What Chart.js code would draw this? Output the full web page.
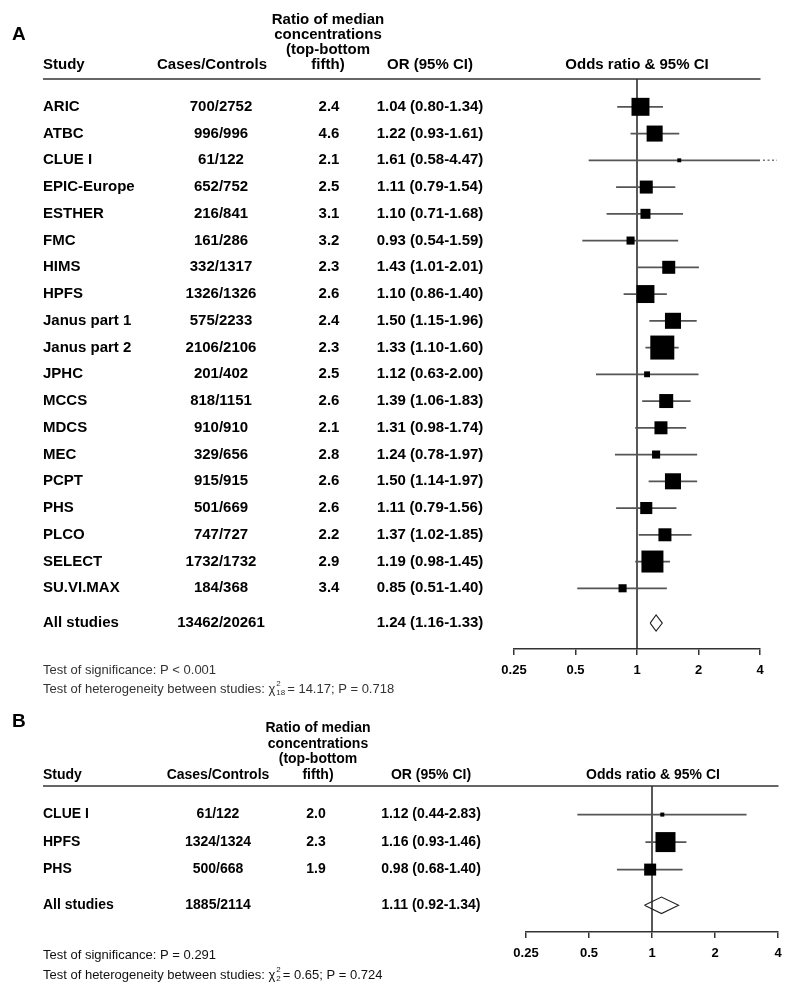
<!DOCTYPE html>
<html>
<head>
<meta charset="utf-8">
<script src="https://cdn.jsdelivr.net/npm/chart.js@4.4.0/dist/chart.umd.min.js"></script>
<style>
  body { margin: 0; background: #fff; }
  #wrap { position: relative; width: 800px; height: 993px; }
  canvas { position: absolute; left: 0; }
</style>
</head>
<body>
<div id="wrap">
  <canvas id="panelA" width="800" height="700" style="top:0"></canvas>
  <canvas id="panelB" width="800" height="293" style="top:700px"></canvas>
</div>
<script>
// ---- panel A data ----
const studiesA = ['ARIC', 'ATBC', 'CLUE I', 'EPIC-Europe', 'ESTHER', 'FMC', 'HIMS', 'HPFS',
  'Janus part 1', 'Janus part 2', 'JPHC', 'MCCS', 'MDCS', 'MEC', 'PCPT', 'PHS', 'PLCO', 'SELECT', 'SU.VI.MAX'];
const casesA = ['700/2752', '996/996', '61/122', '652/752', '216/841', '161/286', '332/1317', '1326/1326',
  '575/2233', '2106/2106', '201/402', '818/1151', '910/910', '329/656', '915/915', '501/669', '747/727', '1732/1732', '184/368'];
const ratioA = [2.4, 4.6, 2.1, 2.5, 3.1, 3.2, 2.3, 2.6, 2.4, 2.3, 2.5, 2.6, 2.1, 2.8, 2.6, 2.6, 2.2, 2.9, 3.4];
const orA = [1.04, 1.22, 1.61, 1.11, 1.10, 0.93, 1.43, 1.10, 1.50, 1.33, 1.12, 1.39, 1.31, 1.24, 1.50, 1.11, 1.37, 1.19, 0.85];
const loA = [0.80, 0.93, 0.58, 0.79, 0.71, 0.54, 1.01, 0.86, 1.15, 1.10, 0.63, 1.06, 0.98, 0.78, 1.14, 0.79, 1.02, 0.98, 0.51];
const hiA = [1.34, 1.61, 4.47, 1.54, 1.68, 1.59, 2.01, 1.40, 1.96, 1.60, 2.00, 1.83, 1.74, 1.97, 1.97, 1.56, 1.85, 1.45, 1.40];
// relative study weights (%)
const weightA = [8.4, 6.7, 0.4, 4.4, 2.6, 1.7, 4.4, 8.4, 6.7, 15.0, 0.9, 5.1, 4.4, 1.7, 6.7, 3.8, 4.4, 12.6, 1.7];
const allCasesA = '13462/20261';
const allOrA = [1.24, 1.16, 1.33];

// ---- panel B data ----
const studiesB = ['CLUE I', 'HPFS', 'PHS'];
const casesB = ['61/122', '1324/1324', '500/668'];
const ratioB = [2.0, 2.3, 1.9];
const orB = [1.12, 1.16, 0.98];
const loB = [0.44, 0.93, 0.68];
const hiB = [2.83, 1.46, 1.40];
const weightB = [2.9, 71.4, 25.7];
const allCasesB = '1885/2114';
const allOrB = [1.11, 0.92, 1.34];

const xTicks = [0.25, 0.5, 1, 2, 4];

const fmtOr = (o, l, h) => `${o.toFixed(2)} (${l.toFixed(2)}-${h.toFixed(2)})`;

function drawChi(ctx, x, y, before, sup, sub, after) {
  ctx.textAlign = 'left';
  ctx.fillText(before + '\u03C7', x, y);
  let cx = x + ctx.measureText(before + '\u03C7').width + 1;
  const old = ctx.font;
  ctx.font = '8px "Liberation Sans", Arial, sans-serif';
  ctx.fillText(sup, cx, y - 5);
  ctx.fillText(sub, cx, y + 4);
  const w = Math.max(ctx.measureText(sup).width, ctx.measureText(sub).width);
  ctx.font = old;
  ctx.fillText(after, cx + w + 2, y);
}

function makePanel(canvasId, p) {
  const n = p.studies.length;
  const yMin = -1.04, yMax = n + 1.27, ySum = n + 0.3;

  const datasets = [];
  // boxes, size from weight
  const maxW = Math.max(...p.weight);
  const radii = p.weight.map(w => p.maxBox * Math.sqrt(w / maxW) / Math.SQRT2);
  datasets.push({
    data: p.or.map((v, i) => ({ x: v, y: i })),
    pointStyle: 'rect',
    pointRadius: radii,
    pointHoverRadius: radii,
    backgroundColor: '#000', borderColor: '#000', borderWidth: 0,
    order: 0
  });
  // confidence intervals
  p.lo.forEach((l, i) => {
    datasets.push({
      data: [{ x: l, y: i }, { x: Math.min(p.hi[i], 4), y: i }],
      showLine: true, pointRadius: 0, borderColor: '#555', borderWidth: 1.7,
      order: 2
    });
  });
  // reference line at OR = 1
  datasets.push({
    data: [{ x: 1, y: yMin }, { x: 1, y: yMax }],
    showLine: true, pointRadius: 0, borderColor: '#222', borderWidth: 1.5, order: 3
  });
  // summary diamond
  const [so, sl, sh] = p.all;
  datasets.push({
    data: [{ x: sl, y: ySum }, { x: so, y: ySum - 0.3 }, { x: sh, y: ySum }, { x: so, y: ySum + 0.3 }, { x: sl, y: ySum }],
    showLine: true, pointRadius: 0, borderColor: '#222', borderWidth: 1.1, backgroundColor: '#fff', fill: true,
    order: 1
  });

  const tablePlugin = {
    id: 'table' + canvasId,
    afterDatasetsDraw(chart) {
      const ctx = chart.ctx;
      const area = chart.chartArea;
      const ys = chart.scales.y;
      ctx.save();
      ctx.fillStyle = '#000';
      ctx.textBaseline = 'middle';

      // panel letter
      ctx.font = 'bold 19px "Liberation Sans", Arial, sans-serif';
      ctx.textAlign = 'left';
      ctx.fillText(p.letter, 12, p.letterY);

      // header
      ctx.font = p.headFont;
      const hy = area.top - p.headGap;
      ctx.fillText('Study', p.colStudy, hy);
      ctx.textAlign = 'center';
      ctx.fillText('Cases/Controls', p.colCasesHead, hy);
      ['Ratio of median', 'concentrations', '(top-bottom', 'fifth)'].forEach((t, k) => {
        ctx.fillText(t, p.colRatioHead, hy - (3 - k) * p.headStep);
      });
      ctx.fillText('OR (95% CI)', p.colOr, hy);
      ctx.fillText('Odds ratio & 95% CI', p.colPlot, hy);

      // header rule
      ctx.strokeStyle = '#333';
      ctx.lineWidth = 1.5;
      ctx.beginPath();
      ctx.moveTo(p.colStudy, area.top);
      ctx.lineTo(area.right + 0.5, area.top);
      ctx.stroke();

      // rows
      ctx.font = p.font;
      p.studies.forEach((s, i) => {
        const y = ys.getPixelForValue(i);
        ctx.textAlign = 'left';
        ctx.fillText(s, p.colStudy, y);
        ctx.textAlign = 'center';
        ctx.fillText(p.cases[i], p.colCases, y);
        ctx.fillText(p.ratio[i].toFixed(1), p.colRatio, y);
        ctx.fillText(fmtOr(p.or[i], p.lo[i], p.hi[i]), p.colOr, y);
        if (p.hi[i] > 4) {
          // CI runs off the scale: dotted continuation
          ctx.save();
          ctx.strokeStyle = '#777';
          ctx.lineWidth = 1.6;
          ctx.setLineDash([2, 2.5]);
          ctx.beginPath();
          ctx.moveTo(area.right + 3, y);
          ctx.lineTo(area.right + 17, y);
          ctx.stroke();
          ctx.restore();
        }
      });
      const ya = ys.getPixelForValue(ySum);
      ctx.textAlign = 'left';
      ctx.fillText('All studies', p.colStudy, ya);
      ctx.textAlign = 'center';
      ctx.fillText(p.allCases, p.colCases, ya);
      ctx.fillText(fmtOr(so, sl, sh), p.colOr, ya);

      // footnotes
      ctx.font = p.footFont;
      ctx.fillStyle = p.footColor;
      ctx.textAlign = 'left';
      ctx.fillText(p.foot1, p.colStudy, p.footY);
      drawChi(ctx, p.colStudy, p.footY + p.footStep, 'Test of heterogeneity between studies: ', '2', p.df, p.foot2);
      ctx.restore();
    }
  };

  const H = chartHeight(canvasId);
  new Chart(document.getElementById(canvasId), {
    type: 'scatter',
    data: { datasets },
    options: {
      responsive: false,
      animation: false,
      events: [],
      layout: { padding: { left: p.left, right: 800 - p.right, top: p.top, bottom: H - p.bottom - 30 } },
      plugins: { legend: { display: false }, tooltip: { enabled: false } },
      scales: {
        x: {
          type: 'logarithmic', min: 0.25, max: 4,
          afterBuildTicks: s => { s.ticks = xTicks.map(v => ({ value: v })); },
          afterFit: s => { s.height = 30; },
          ticks: {
            callback: v => String(v), autoSkip: false, maxRotation: 0, padding: 8,
            color: '#000', font: { family: '"Liberation Sans", Arial, sans-serif', weight: 'bold', size: 13 }
          },
          grid: { drawOnChartArea: false, drawTicks: true, tickLength: 6, color: '#333', lineWidth: 1.5 },
          border: { display: true, color: '#333', width: 1.5 }
        },
        y: { type: 'linear', display: false, reverse: true, min: yMin, max: yMax }
      }
    },
    plugins: [tablePlugin]
  });
}

function chartHeight(id) { return document.getElementById(id).height; }

makePanel('panelA', {
  letter: 'A', letterY: 35,
  studies: studiesA, cases: casesA, ratio: ratioA, or: orA, lo: loA, hi: hiA, weight: weightA,
  allCases: allCasesA, all: allOrA, maxBox: 24,
  left: 514, right: 760, top: 79, bottom: 649,
  font: 'bold 15px "Liberation Sans", Arial, sans-serif',
  headFont: 'bold 15px "Liberation Sans", Arial, sans-serif',
  headGap: 14, headStep: 15,
  colStudy: 43, colCases: 221, colCasesHead: 212, colRatio: 329, colRatioHead: 328, colOr: 430, colPlot: 637,
  footFont: '13px "Liberation Sans", Arial, sans-serif', footColor: '#333',
  footY: 670, footStep: 19,
  foot1: 'Test of significance: P < 0.001', df: '18', foot2: '= 14.17; P = 0.718'
});

makePanel('panelB', {
  letter: 'B', letterY: 22,
  studies: studiesB, cases: casesB, ratio: ratioB, or: orB, lo: loB, hi: hiB, weight: weightB,
  allCases: allCasesB, all: allOrB, maxBox: 20,
  left: 526, right: 778, top: 86, bottom: 232,
  font: 'bold 14px "Liberation Sans", Arial, sans-serif',
  headFont: 'bold 14px "Liberation Sans", Arial, sans-serif',
  headGap: 11, headStep: 15.5,
  colStudy: 43, colCases: 218, colCasesHead: 218, colRatio: 316, colRatioHead: 318, colOr: 431, colPlot: 653,
  footFont: '13px "Liberation Sans", Arial, sans-serif', footColor: '#111',
  footY: 255, footStep: 20,
  foot1: 'Test of significance: P = 0.291', df: '2', foot2: '= 0.65; P = 0.724'
});
</script>
</body>
</html>
